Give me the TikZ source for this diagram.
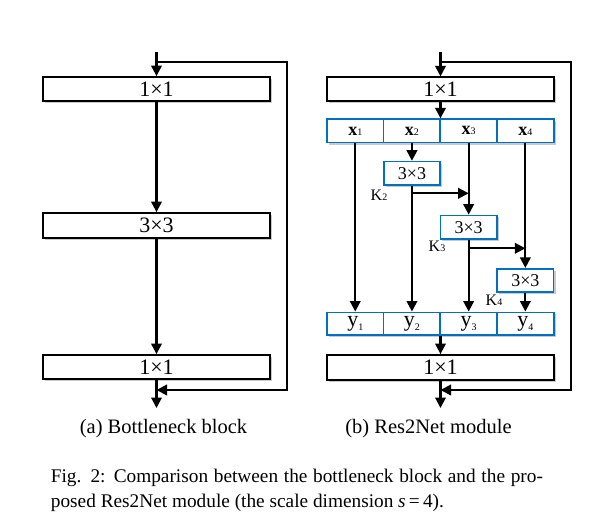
\documentclass[tikz,border=0pt]{standalone}
\usepackage{fontspec}
\setmainfont{Liberation Serif}
\usetikzlibrary{arrows.meta,shadows,calc}
\definecolor{rblue}{RGB}{0,112,192}
\newcommand\xlab[1]{{\fontsize{18}{18}\selectfont\bfseries x}{\fontsize{10}{10}\selectfont #1}}
\newcommand\ylab[1]{{\fontsize{22}{22}\selectfont y}\raisebox{-4pt}{\fontsize{10}{10}\selectfont #1}}
\newcommand\klabel[1]{{\fontsize{16}{16}\selectfont K}{\fontsize{10}{10}\selectfont #1}}
\begin{document}
\begin{tikzpicture}[x=1pt,y=-1pt,
  shad/.style={drop shadow={shadow xshift=2pt,shadow yshift=-2pt,opacity=0.35,fill=black!60}},
  bigbox/.style={draw=black,line width=1.8pt,fill=white,minimum width=227pt,minimum height=24pt,inner sep=0pt,shad,font=\fontsize{22}{22}\selectfont},
  cell/.style={draw=rblue,line width=1.6pt,fill=white,minimum width=56.8pt,minimum height=23.5pt,inner sep=0pt},
  smallbox/.style={draw=rblue,line width=1.6pt,fill=white,minimum width=56.5pt,minimum height=23.5pt,inner sep=0pt,shad,font=\fontsize{18}{18}\selectfont},
  arr/.style={line width=2.1pt,-{Triangle[length=10.5pt,width=10.5pt]}},
  klab/.style={inner sep=0pt},
  captxt/.style={inner sep=0pt,anchor=base,font=\fontsize{20.5}{20.5}\selectfont}]
\useasboundingbox (0,0) rectangle (590,524);
% ---------- left: bottleneck ----------
\node[bigbox] (Ltop) at (156.5,89) {1×1};
\node[bigbox,minimum height=25pt] (Lmid) at (156.5,225.5) {3×3};
\node[bigbox] (Lbot) at (156.5,367) {1×1};
\coordinate (Lin) at (156.5,52);
\coordinate (Ls) at (156.5,62);
\coordinate (Lc1) at (287,62);
\coordinate (Lc2) at (287,390);
\coordinate (Lj) at (156.5,390);
\coordinate (Lout) at (156.5,408);
\draw[arr] (Lin) -- (Ltop);
\draw[arr] (Ltop) -- (Lmid);
\draw[arr] (Lmid) -- (Lbot);
\draw[arr] (Ls) -- (Lc1) -- (Lc2) -- (Lj);
\draw[arr] (Lbot) -- (Lout);
\node[captxt] (capa) at (163.5,433) {(a) Bottleneck block};
% ---------- right: Res2Net ----------
\node[bigbox] (Rtop) at (440.5,89.3) {1×1};
\node[cell,shad,minimum width=227pt] (xrow) at (440.5,130.9) {};
\node[cell] (x1) at (355.25,130.9) {\xlab{1}};
\node[cell] (x2) at (411.95,130.9) {\xlab{2}};
\node[cell] (x3) at (468.65,130.9) {\xlab{3}};
\node[cell] (x4) at (525.35,130.9) {\xlab{4}};
\node[smallbox] (b1) at (411.95,173.3) {3×3};
\node[smallbox] (b2) at (468.65,227.2) {3×3};
\node[smallbox] (b3) at (525.35,280.5) {3×3};
\node[cell,shad,minimum width=227pt,minimum height=22.7pt] (yrow) at (440.5,323.7) {};
\node[cell,minimum height=22.7pt] (y1) at (355.25,323.7) {\ylab{1}};
\node[cell,minimum height=22.7pt] (y2) at (411.95,323.7) {\ylab{2}};
\node[cell,minimum height=22.7pt] (y3) at (468.65,323.7) {\ylab{3}};
\node[cell,minimum height=22.7pt] (y4) at (525.35,323.7) {\ylab{4}};
\node[bigbox,minimum height=25pt] (Rbot) at (440.5,367.5) {1×1};
\node[klab] (K2) at (379,195) {\klabel{2}};
\node[klab] (K3) at (437,246.7) {\klabel{3}};
\node[klab] (K4) at (494,300) {\klabel{4}};
\coordinate (Rin) at (440.5,52);
\coordinate (Rs) at (440.5,62);
\coordinate (Rc1) at (571,62);
\coordinate (Rc2) at (571,390);
\coordinate (Rj) at (440.5,390);
\coordinate (Rout) at (440.5,408);
\coordinate (h1) at (411.95,193.3);
\coordinate (h2) at (468.65,248.3);
\draw[arr] (Rin) -- (Rtop);
\draw[arr] (Rtop) -- (Rtop.south |- xrow.north);
\draw[arr] (x1) -- (y1);
\draw[arr] (x2) -- (b1);
\draw[arr] (b1) -- (y2);
\draw[arr] (h1) -- (x3 |- h1);
\draw[arr] (x3) -- (b2);
\draw[arr] (b2) -- (y3);
\draw[arr] (h2) -- (x4 |- h2);
\draw[arr] (x4) -- (b3);
\draw[arr] (b3) -- (y4);
\draw[arr] (yrow.south) -- (yrow.south |- Rbot.north);
\draw[arr] (Rs) -- (Rc1) -- (Rc2) -- (Rj);
\draw[arr] (Rbot) -- (Rout);
\node[captxt] (capb) at (428.5,433) {(b) Res2Net module};
% ---------- figure caption ----------
\node[inner sep=0pt,anchor=base west,font=\fontsize{19.3}{19.3}\selectfont] (fig1) at (50.7,482.7)
  {\makebox[492pt][s]{Fig. 2: Comparison between the bottleneck block and the pro-}};
\node[inner sep=0pt,anchor=base west,font=\fontsize{19.3}{19.3}\selectfont] (fig2) at (50.7,507.5)
  {posed Res2Net module (the scale dimension \textit{s}\,=\,4).};
\end{tikzpicture}
\end{document}
